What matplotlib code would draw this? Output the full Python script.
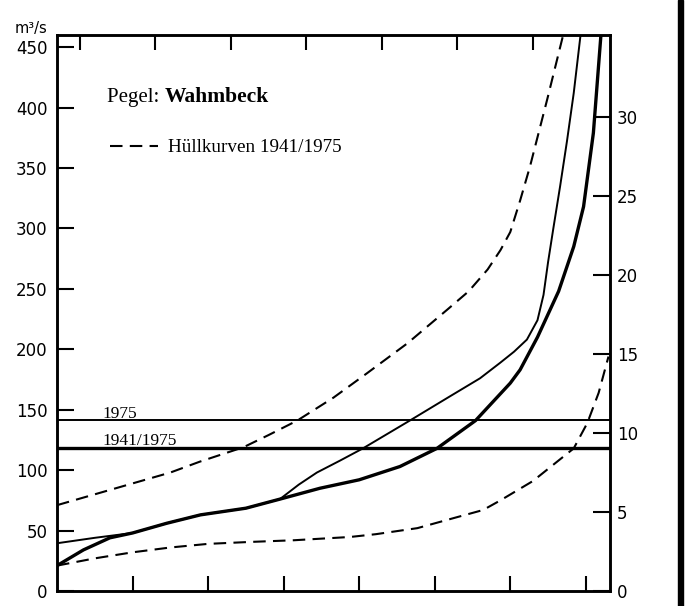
import matplotlib
matplotlib.use("Agg")
import matplotlib.pyplot as plt
from matplotlib.patches import Rectangle

# Abflusskurven Pegel Wahmbeck
x_thick = [0, 0.35, 0.7, 1.0, 1.45, 1.9, 2.5, 2.95, 3.48, 4.0, 4.54, 5.03, 5.54, 6.0, 6.13, 6.36, 6.64, 6.84, 6.97, 7.10, 7.20]
q_thick = [21, 34, 44, 48, 56, 63, 68.5, 76, 85, 92, 103, 118, 141, 172, 183, 210, 248, 285, 318, 379, 460]

x_thin = [0, 0.5, 1.0, 1.45, 1.9, 2.5, 2.95, 3.2, 3.44, 3.75, 4.05, 4.67, 5.2, 5.6, 5.87, 6.05, 6.22, 6.36, 6.44, 6.50, 6.57, 6.66, 6.75, 6.84, 6.93]
q_thin = [39.5, 44, 48, 56, 63, 68.5, 76, 88, 98, 108, 118, 141, 161, 176, 189, 198, 208, 224, 245, 272, 300, 335, 372, 412, 460]

x_upper = [0, 0.5, 1.0, 1.5, 1.89, 2.47, 2.8, 3.18, 3.66, 4.1, 4.64, 5.17, 5.45, 5.7, 5.87, 6.0, 6.13, 6.26, 6.49, 6.70]
q_upper = [71, 80, 89, 98, 107, 119, 129, 141, 160, 180, 205, 233, 248, 266, 282, 297, 323, 351, 407, 460]

x_lower = [0, 0.5, 1.0, 1.5, 2.0, 2.56, 3.14, 3.88, 4.22, 4.77, 5.29, 5.64, 5.87, 6.3, 6.84, 7.02, 7.17, 7.30]
q_lower = [21, 27, 32, 36, 39, 40.6, 42, 44.7, 47, 52, 61, 67, 75, 91, 118, 139, 164, 194]

q_1975 = 141.5
q_1941_1975 = 118.2

left_ticks = [0, 50, 100, 150, 200, 250, 300, 350, 400, 450]
right_ticks = [0, 5, 10, 15, 20, 25, 30]
bottom_ticks = [1, 2, 3, 4, 5, 6, 7]
top_ticks = [0.3, 1.3, 2.3, 3.3, 4.3, 5.3, 6.3]

q_max = 460
ratio = 13.085   # m3/s per unit of the right scale
x_max = 7.32

serif = "Liberation Serif"

fig = plt.figure(figsize=(6.88, 6.06), dpi=100)
ax = fig.add_axes([57 / 688, 15 / 606, 553 / 688, 556 / 606])

ax.plot(x_upper, q_upper, color="black", lw=1.5, dashes=(6, 3.5), label="Hüllkurven 1941/1975")
ax.plot(x_lower, q_lower, color="black", lw=1.5, dashes=(6, 3.5))
ax.plot(x_thin, q_thin, color="black", lw=1.4)
ax.plot(x_thick, q_thick, color="black", lw=2.4)
ax.axhline(q_1975, color="black", lw=1.4)
ax.axhline(q_1941_1975, color="black", lw=2.4)

ax.set_xlim(0, x_max)
ax.set_ylim(0, q_max)
ax.set_xticks(bottom_ticks)
ax.set_xticklabels([])
ax.set_yticks(left_ticks)
ax.tick_params(axis="both", direction="in", width=1.5, color="black")
ax.tick_params(axis="y", length=12, pad=7, labelsize=12)
ax.tick_params(axis="x", length=11)
for s in ax.spines.values():
    s.set_linewidth(1.8)

# right scale
ax_r = ax.twinx()
ax_r.set_ylim(0, q_max / ratio)
ax_r.set_yticks(right_ticks)
ax_r.tick_params(axis="y", direction="in", length=12, width=1.5, pad=5, labelsize=12)
for s in ax_r.spines.values():
    s.set_linewidth(1.8)

# top ticks
ax_t = ax.twiny()
ax_t.set_xlim(0, x_max)
ax_t.set_xticks(top_ticks)
ax_t.set_xticklabels([])
ax_t.tick_params(axis="x", direction="in", length=11, width=1.5)

t1 = ax.text(0.090, 0.8795, "Pegel: ", transform=ax.transAxes, fontsize=15, family=serif,
             ha="left", va="baseline")
fig.canvas.draw()
bb = t1.get_window_extent()
x_next = ax.transAxes.inverted().transform((bb.x1, bb.y0))[0]
ax.text(x_next, 0.8795, "Wahmbeck", transform=ax.transAxes, fontsize=15.5, family=serif,
        weight="bold", ha="left", va="baseline")

leg = ax.legend(loc="upper left", bbox_to_anchor=(0.096, 0.813), frameon=False,
                prop={"family": serif, "size": 13.8}, handlelength=2.5, handletextpad=0.5,
                borderpad=0, borderaxespad=0)

ax.text(0.083, 143.5, "1975", transform=ax.get_yaxis_transform(), fontsize=12.5, family=serif, va="baseline")
ax.text(0.083, 121, "1941/1975", transform=ax.get_yaxis_transform(), fontsize=12.5, family=serif, va="baseline")

fig.text(15 / 688, 1 - 33 / 606, "m³/s", fontsize=10.5, ha="left", va="baseline")

fig.add_artist(Rectangle((678 / 688, 0), 5 / 688, 1, transform=fig.transFigure, color="black"))

fig.savefig("out.png", dpi=100)
